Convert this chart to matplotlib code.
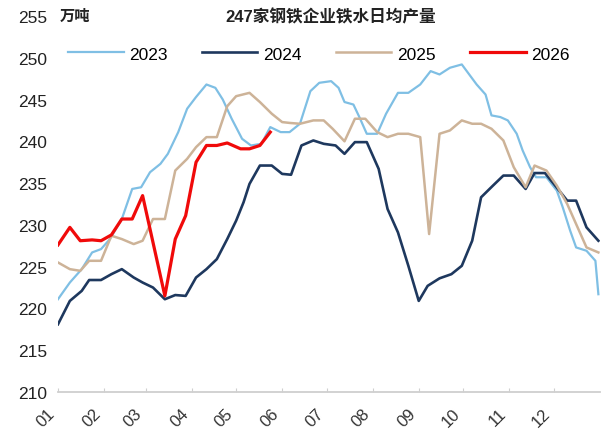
import matplotlib
matplotlib.use("Agg")
import matplotlib.pyplot as plt

plt.rcParams['font.family'] = ['Liberation Sans', 'Noto Sans CJK SC']

# month start days (day of year) used for the x ticks
month_labels = ["01", "02", "03", "04", "05", "06", "07", "08", "09", "10", "11", "12"]
month_start = [0, 31, 59, 90, 120, 151, 181, 212, 243, 273, 304, 334]

# 247 steel mills, daily hot metal output (10k t)
days_2023 = [0, 8, 16, 23, 29, 35, 43, 50, 56, 62, 69, 74, 81, 87, 93, 100, 106, 111,
             117, 124, 130, 137, 143, 150, 156, 163, 170, 176, 184, 189, 193, 199, 203,
             208, 215, 221, 229, 236, 244, 251, 257, 264, 272, 277, 282, 288, 292, 298,
             303, 309, 313, 318, 322, 329, 336, 340, 345, 349, 356, 362, 364]
vals_2023 = [221.1, 223.1, 224.7, 226.7, 227.1, 228.3, 230.7, 234.3, 234.5, 236.3, 237.3,
             238.5, 241.1, 243.9, 245.3, 246.8, 246.4, 245.0, 242.7, 240.3, 239.5, 239.7,
             241.7, 241.1, 241.1, 242.1, 246.0, 247.0, 247.2, 246.4, 244.7, 244.4, 242.9,
             240.9, 240.9, 243.3, 245.8, 245.8, 246.8, 248.4, 248.0, 248.8, 249.2, 248.0,
             246.8, 245.6, 243.1, 242.9, 242.5, 240.9, 238.9, 236.9, 235.7, 235.7, 234.1,
             232.1, 229.3, 227.3, 226.9, 225.7, 221.7]

days_2024 = [0, 8, 16, 21, 29, 36, 43, 51, 57, 64, 72, 79, 86, 93, 100, 107, 114, 120,
             125, 129, 136, 144, 151, 157, 164, 172, 179, 187, 193, 200, 208, 216, 222,
             229, 236, 243, 249, 257, 265, 272, 279, 285, 293, 300, 307, 315, 321, 328,
             334, 343, 349, 356, 364]
vals_2024 = [218.1, 220.9, 222.1, 223.4, 223.4, 224.1, 224.7, 223.7, 223.1, 222.5, 221.1,
             221.6, 221.5, 223.7, 224.7, 225.9, 228.3, 230.5, 232.7, 234.9, 237.1, 237.1,
             236.1, 236.0, 239.5, 240.1, 239.7, 239.5, 238.5, 239.9, 239.9, 236.7, 231.9,
             229.1, 225.1, 220.9, 222.7, 223.6, 224.1, 225.1, 228.1, 233.3, 234.7, 235.9,
             235.9, 234.3, 236.2, 236.2, 234.9, 232.9, 232.9, 229.7, 228.1]

days_2025 = [0, 8, 15, 21, 29, 36, 43, 51, 57, 64, 72, 79, 87, 93, 100, 107, 114, 120,
             129, 136, 144, 151, 156, 163, 172, 179, 185, 193, 200, 207, 215, 222, 229,
             236, 244, 250, 257, 264, 272, 279, 285, 292, 300, 307, 315, 321, 329, 336,
             343, 349, 356, 364]
vals_2025 = [225.5, 224.7, 224.5, 225.7, 225.7, 228.7, 228.3, 227.7, 228.1, 230.7, 230.7,
             236.5, 237.9, 239.3, 240.5, 240.5, 244.2, 245.4, 245.8, 244.7, 243.3, 242.3,
             242.2, 242.1, 242.5, 242.5, 241.5, 240.0, 242.7, 242.7, 241.1, 240.5, 240.9,
             240.9, 240.5, 228.9, 240.9, 241.3, 242.5, 242.1, 242.1, 241.5, 240.1, 236.9,
             234.5, 237.1, 236.5, 234.7, 232.5, 230.1, 227.3, 226.7]

days_2026 = [0, 8, 15, 23, 29, 36, 43, 50, 57, 72, 79, 86, 93, 100, 107, 114, 123, 129,
             136, 143]
vals_2026 = [227.6, 229.7, 228.1, 228.2, 228.1, 228.8, 230.7, 230.7, 233.5, 221.5, 228.3,
             231.1, 237.5, 239.5, 239.5, 239.8, 239.1, 239.1, 239.5, 241.1]


fig = plt.figure(figsize=(6.09, 4.35), dpi=100)
ax = fig.add_axes([0.0952, 0.0966, 0.8898, 0.8644])

ax.plot(days_2023, vals_2023, color="#7fbfe4", lw=1.6, label="2023")
ax.plot(days_2024, vals_2024, color="#1e385e", lw=1.9, label="2024")
ax.plot(days_2025, vals_2025, color="#cdb398", lw=1.8, label="2025")
ax.plot(days_2026, vals_2026, color="#f00a0a", lw=2.3, label="2026")

ax.set_xlim(0, 365)
ax.set_ylim(210, 255)
ax.set_yticks(range(210, 256, 5))
ax.set_xticks(month_start)
ax.set_xticklabels([])

# rotated month labels, a little left of and below each tick
for d, lab in zip(month_start, month_labels):
    ax.annotate(lab, xy=(d, 0), xycoords=("data", "axes fraction"),
                xytext=(-8, -9.5), textcoords="offset points", rotation=45,
                ha="right", va="top", rotation_mode="anchor", fontsize=12,
                color="#333333", annotation_clip=False)

for s in ["top", "right", "left"]:
    ax.spines[s].set_visible(False)
ax.spines["bottom"].set_color("#cfcfcf")
ax.spines["bottom"].set_linewidth(1.3)

ax.tick_params(axis="y", length=0, pad=8, labelsize=12.5, labelcolor="#222222")
ax.tick_params(axis="x", direction="in", length=3, color="#cfcfcf")

ax.legend(loc="center", bbox_to_anchor=(0.481, 0.899), ncol=4, frameon=False,
          fontsize=12.5, handlelength=3.2, handletextpad=0.3, columnspacing=2.0)

fig.text(0.5435, 0.961, "247家钢铁企业铁水日均产量", ha="center", va="center",
         fontsize=12, fontweight="bold", color="#222222")
fig.text(0.123, 0.961, "万吨", ha="center", va="center", fontsize=11,
         fontweight="bold", color="#222222")

fig.savefig("out.png", dpi=100)
